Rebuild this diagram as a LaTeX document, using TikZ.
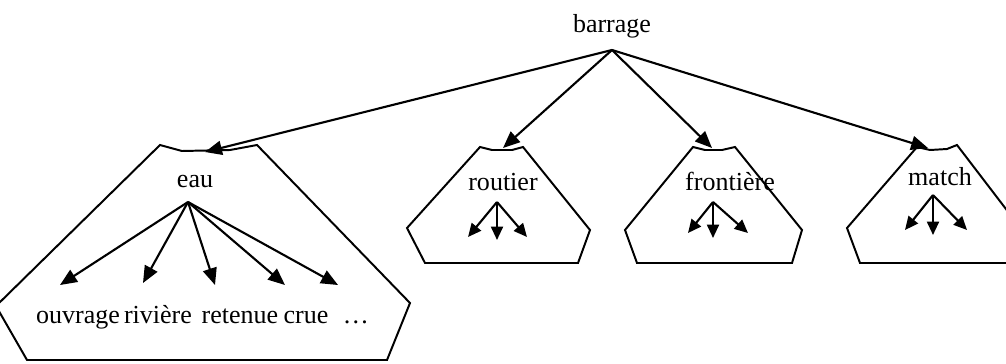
\documentclass[tikz,border=0pt]{standalone}
\usepackage{fontspec}
\setmainfont{Liberation Serif}
\usetikzlibrary{arrows.meta,positioning}

\begin{document}
\begin{tikzpicture}[x=0.025cm, y=-0.025cm,
  word/.style={font=\fontsize{18.5}{21}\selectfont, inner sep=0pt, anchor=base},
  link/.style={line width=1.5pt, -{Triangle[length=12pt,width=10pt]}},
  sublink/.style={line width=1.5pt, -{Triangle[length=9.5pt,width=8.5pt]}},
  bag/.style={line width=1.4pt, line join=miter}
]
\useasboundingbox (0,0) rectangle (1006,363);
\clip (0,0) rectangle (1006,363);

\draw[bag] (160,145) -- (182,151) -- (230,150) -- (257,145) -- (410,303) -- (387,360) -- (27,360) -- (-4,306) -- cycle;
\draw[bag] (480,147) -- (492,150) -- (512,150) -- (523,147) -- (590,230) -- (578,263) -- (425,263) -- (407,228) -- cycle;
\draw[bag] (693,147) -- (705,150) -- (722,150) -- (735,147) -- (802,230) -- (792,263) -- (637,263) -- (625,230) -- cycle;
\draw[bag] (917,147) -- (930,150) -- (947,149) -- (957,145) -- (1022,230) -- (1012,263) -- (860,263) -- (847,228) -- cycle;

\node[word] (barrage) at (612,32) {barrage};
\node[word] (eau) at (195,187) {eau};
\node[word] (routier) at (503,190) {routier};
\node[word] (frontiere) at (730,190) {frontière};
\node[word] (match) at (940,185) {match};

\node[word] (ouvrage) at (78,323) {ouvrage};
\node[word] (riviere) at (158,323) {rivière};
\node[word] (retenue) at (240,323) {retenue};
\node[word] (crue) at (306,323) {crue};
\node[word] (etc) at (356,323) {\dots};

\coordinate (root) at (612,50);
\coordinate (eau in) at (205,152);
\coordinate (routier in) at (503,148);
\coordinate (frontiere in) at (712,148);
\coordinate (match in) at (928,148);

\draw[link] (root) -- (eau in);
\draw[link] (root) -- (routier in);
\draw[link] (root) -- (frontiere in);
\draw[link] (root) -- (match in);

\coordinate (eau out) at (188,202);
\coordinate (ouvrage in) at (60,285);
\coordinate (riviere in) at (143,283);
\coordinate (retenue in) at (215,285);
\coordinate (crue in) at (285,285);
\coordinate (etc in) at (338,285);

\draw[link] (eau out) -- (ouvrage in);
\draw[link] (eau out) -- (riviere in);
\draw[link] (eau out) -- (retenue in);
\draw[link] (eau out) -- (crue in);
\draw[link] (eau out) -- (etc in);

\coordinate (routier out) at (497,202);
\coordinate (routier a) at (468,237);
\coordinate (routier b) at (497,240);
\coordinate (routier c) at (527,237);
\draw[sublink] (routier out) -- (routier a);
\draw[sublink] (routier out) -- (routier b);
\draw[sublink] (routier out) -- (routier c);

\coordinate (frontiere out) at (713,202);
\coordinate (frontiere a) at (688,233);
\coordinate (frontiere b) at (713,238);
\coordinate (frontiere c) at (748,233);
\draw[sublink] (frontiere out) -- (frontiere a);
\draw[sublink] (frontiere out) -- (frontiere b);
\draw[sublink] (frontiere out) -- (frontiere c);

\coordinate (match out) at (933,195);
\coordinate (match a) at (905,230);
\coordinate (match b) at (933,235);
\coordinate (match c) at (967,230);
\draw[sublink] (match out) -- (match a);
\draw[sublink] (match out) -- (match b);
\draw[sublink] (match out) -- (match c);
\end{tikzpicture}
\end{document}
